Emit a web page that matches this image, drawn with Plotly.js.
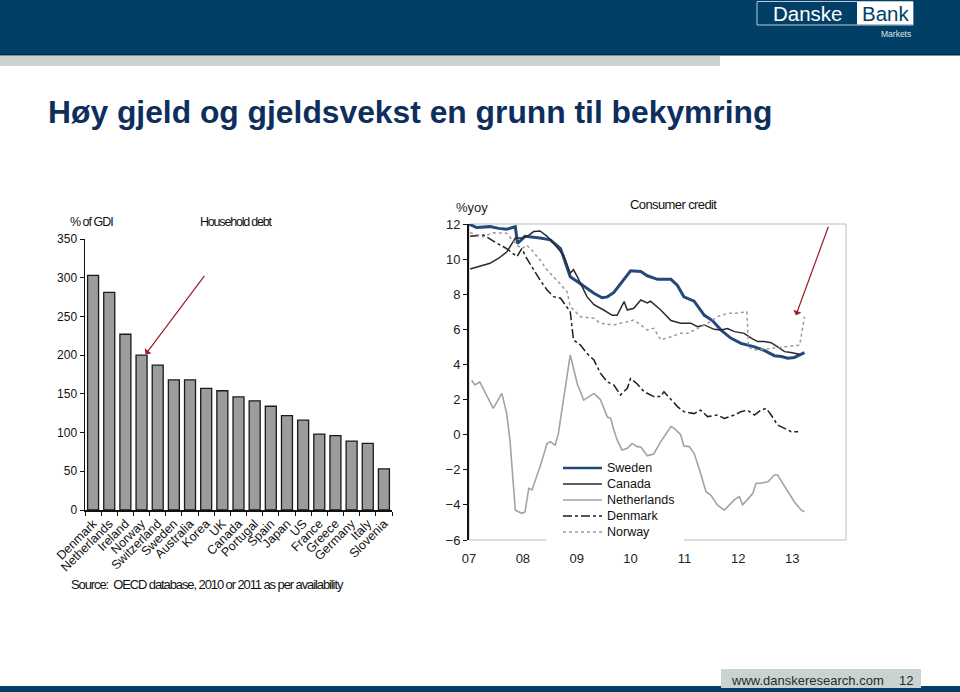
<!DOCTYPE html>
<html>
<head>
<meta charset="utf-8">
<script src="https://cdn.plot.ly/plotly-3.0.1.min.js"></script>
<style>
  html, body { margin: 0; padding: 0; background: #ffffff; }
  #chart { width: 960px; height: 692px; }
</style>
</head>
<body>
<div id="chart"></div>
<script>
// ---------- Data: household debt (% of GDI) ----------
const countries = ['Denmark','Netherlands','Ireland','Norway','Switzerland','Sweden','Australia','Korea','UK','Canada','Portugal','Spain','Japan','US','France','Greece','Germany','Italy','Slovenia'];
const debtPctGDI = [303, 281, 227, 200, 187, 168, 168, 157, 154, 146, 141, 134, 122, 116, 98, 96, 89, 86, 53];

// ---------- Data: consumer credit, % y/y ----------
const swedenX = [2007.0,2007.14,2007.39,2007.55,2007.70,2007.86,2007.90,2008.04,2008.32,2008.51,2008.70,2008.88,2009.07,2009.32,2009.47,2009.57,2009.69,2009.84,2010.0,2010.19,2010.31,2010.50,2010.75,2010.87,2010.99,2011.18,2011.37,2011.52,2011.68,2011.86,2012.05,2012.30,2012.48,2012.67,2012.80,2012.92,2013.04,2013.23];
const swedenY = [12.0,11.8,11.85,11.75,11.7,11.85,10.9,11.3,11.2,11.1,10.6,9.0,8.6,8.05,7.8,7.85,8.1,8.7,9.33,9.3,9.05,8.85,8.85,8.5,7.85,7.6,6.8,6.5,5.96,5.5,5.2,5.0,4.8,4.5,4.45,4.35,4.4,4.67];

const canadaX = [2007.02,2007.27,2007.39,2007.55,2007.70,2007.80,2007.86,2007.98,2008.11,2008.20,2008.32,2008.45,2008.60,2008.76,2008.88,2008.94,2009.01,2009.19,2009.32,2009.50,2009.66,2009.75,2009.88,2009.94,2010.06,2010.19,2010.31,2010.37,2010.56,2010.75,2010.93,2011.12,2011.24,2011.37,2011.55,2011.68,2011.80,2011.93,2012.11,2012.24,2012.36,2012.48,2012.61,2012.73,2012.86,2012.95,2013.04,2013.14];
const canadaY = [9.44,9.67,9.76,10.05,10.4,10.9,11.2,11.2,11.35,11.57,11.6,11.3,10.8,10.2,9.2,9.4,9.0,7.86,7.4,7.1,6.8,6.8,7.58,7.1,7.2,7.67,7.5,7.6,7.1,6.5,6.35,6.35,6.15,6.25,6.0,5.96,6.05,5.87,5.77,5.5,5.3,5.3,5.24,5.0,4.73,4.7,4.63,4.58];

const netherlandsX = [2007.05,2007.11,2007.20,2007.45,2007.61,2007.70,2007.76,2007.86,2007.98,2008.04,2008.11,2008.17,2008.32,2008.45,2008.51,2008.60,2008.66,2008.88,2009.01,2009.13,2009.32,2009.44,2009.57,2009.63,2009.69,2009.75,2009.84,2009.94,2010.03,2010.12,2010.19,2010.31,2010.43,2010.56,2010.75,2010.81,2010.93,2010.99,2011.09,2011.18,2011.30,2011.40,2011.49,2011.61,2011.74,2011.83,2011.93,2012.02,2012.08,2012.17,2012.27,2012.33,2012.42,2012.55,2012.67,2012.73,2012.83,2012.92,2013.04,2013.17,2013.23];
const netherlandsY = [3.1,2.83,3.0,1.5,2.35,1.2,-0.3,-4.3,-4.48,-4.4,-3.06,-3.15,-1.82,-0.5,-0.4,-0.6,0.07,4.54,2.9,1.97,2.35,2.0,1.0,0.93,0.27,-0.3,-0.87,-0.78,-0.5,-0.68,-0.7,-1.2,-1.1,-0.4,0.46,0.36,0.0,-0.65,-0.68,-1.06,-2.2,-3.25,-3.44,-4.0,-4.3,-4.0,-3.7,-3.53,-4.0,-3.7,-3.34,-2.77,-2.77,-2.68,-2.3,-2.3,-2.77,-3.25,-3.82,-4.3,-4.39];

const denmarkX = [2007.02,2007.27,2007.52,2007.70,2007.89,2007.98,2008.07,2008.20,2008.32,2008.45,2008.57,2008.70,2008.82,2008.88,2008.94,2009.07,2009.19,2009.32,2009.44,2009.57,2009.69,2009.81,2009.94,2010.0,2010.12,2010.25,2010.43,2010.56,2010.62,2010.75,2010.87,2010.99,2011.18,2011.30,2011.43,2011.61,2011.74,2011.93,2012.05,2012.17,2012.30,2012.42,2012.52,2012.61,2012.73,2012.86,2012.98,2013.11];
const denmarkY = [11.3,11.37,10.9,10.6,10.14,10.6,10.05,9.4,8.8,8.24,7.86,7.77,7.3,7.0,5.4,5.1,4.63,4.25,3.5,3.0,2.83,2.26,2.64,3.2,2.9,2.45,2.17,2.17,2.45,1.98,1.6,1.31,1.2,1.4,1.03,1.12,0.93,1.12,1.31,1.4,1.12,1.4,1.5,1.12,0.55,0.36,0.17,0.17];

const norwayX = [2007.02,2007.27,2007.45,2007.70,2007.89,2007.98,2008.07,2008.17,2008.32,2008.45,2008.63,2008.82,2008.88,2009.07,2009.32,2009.44,2009.69,2009.81,2009.94,2010.06,2010.19,2010.31,2010.43,2010.56,2010.75,2010.93,2011.06,2011.24,2011.43,2011.61,2011.80,2011.93,2012.11,2012.16,2012.19,2012.30,2012.42,2012.61,2012.80,2012.98,2013.14,2013.23];
const norwayY = [11.5,11.28,11.5,11.47,10.8,10.6,10.8,10.5,9.95,9.38,8.8,8.15,7.3,6.72,6.63,6.34,6.25,6.34,6.44,6.53,6.25,5.96,6.06,5.4,5.58,5.77,5.77,6.06,6.34,6.72,6.91,6.91,7.0,7.0,5.0,4.82,4.85,4.92,5.0,5.05,5.1,6.72];

const seriesNames = ['Sweden', 'Canada', 'Netherlands', 'Denmark', 'Norway'];
const yearTickVals = [2007, 2008, 2009, 2010, 2011, 2012, 2013];
const yearTickText = ['07', '08', '09', '10', '11', '12', '13'];

// ---------- helpers (pixel -> paper) ----------
const W = 960, H = 692;
const px = x => x / W;
const py = y => 1 - y / H;

const NAVY = '#013f66';
const BAND = '#c9d4d0';
const ARIAL = '"Liberation Sans", Arial, sans-serif';
const cond = (t, ls) => '<span style="letter-spacing:' + ls + 'px">' + t + '</span>';

const lineStyles = [
  { color: '#244a7c', width: 3 },
  { color: '#2a2a2a', width: 1.5 },
  { color: '#a3a3a3', width: 1.6 },
  { color: '#1e1e1e', width: 1.5, dash: 'dashdot' },
  { color: '#9a9a9a', width: 1.5, dash: 'dot' }
];
const seriesX = [swedenX, canadaX, netherlandsX, denmarkX, norwayX];
const seriesY = [swedenY, canadaY, netherlandsY, denmarkY, norwayY];

const traces = [
  {
    type: 'bar', x: countries, y: debtPctGDI, xaxis: 'x', yaxis: 'y',
    width: 0.68,
    marker: { color: '#9c9c9c', line: { color: '#1a1a1a', width: 1.3 } },
    showlegend: false, hoverinfo: 'x+y'
  }
];
seriesNames.forEach((n, i) => traces.push({
  type: 'scatter', mode: 'lines', name: n, x: seriesX[i], y: seriesY[i],
  xaxis: 'x2', yaxis: 'y2', line: lineStyles[i], showlegend: false
}));

// manual legend (compact spacing as in the source)
const legendShapes = [
  { type: 'rect', xref: 'paper', yref: 'paper', x0: px(546), x1: px(684), y0: py(542), y1: py(458),
    fillcolor: '#ffffff', line: { width: 0 }, layer: 'above' }
];
const legendAnn = [];
seriesNames.forEach((n, i) => {
  const yc = 468 + i * 16;
  legendShapes.push({ type: 'line', xref: 'paper', yref: 'paper', x0: px(563), x1: px(602), y0: py(yc), y1: py(yc),
    line: Object.assign({}, lineStyles[i], { width: Math.min(lineStyles[i].width, 2.5) }), layer: 'above' });
  legendAnn.push({ xref: 'paper', yref: 'paper', x: px(605), y: py(yc), xanchor: 'left', yanchor: 'middle',
    showarrow: false, text: n, font: { family: ARIAL, size: 12.5, color: '#111' } });
});

const layout = {
  width: W, height: H,
  margin: { l: 0, r: 0, t: 0, b: 0, pad: 0 },
  paper_bgcolor: '#ffffff', plot_bgcolor: 'rgba(0,0,0,0)',
  font: { family: ARIAL, color: '#111' },
  showlegend: false,
  // ---- left chart ----
  xaxis: {
    domain: [px(85), px(392)], anchor: 'y', type: 'category',
    showline: true, linecolor: '#111', linewidth: 1.5,
    ticks: 'outside', tickson: 'boundaries', ticklen: 4, tickcolor: '#111',
    tickangle: -45, tickfont: { family: ARIAL, size: 12.5, color: '#111' },
    showgrid: false, zeroline: false, fixedrange: true
  },
  yaxis: {
    domain: [py(510), py(239)], anchor: 'x', range: [0, 350], dtick: 50,
    showline: true, linecolor: '#111', linewidth: 1.5,
    ticks: 'outside', ticklen: 4, tickcolor: '#111',
    tickfont: { family: ARIAL, size: 12, color: '#111' },
    showgrid: false, zeroline: false, fixedrange: true
  },
  // ---- right chart ----
  xaxis2: {
    domain: [px(469), px(846)], anchor: 'y2', range: [2007, 2014],
    tickmode: 'array', tickvals: yearTickVals, ticktext: yearTickText,
    ticks: 'outside', ticklen: 6, tickcolor: 'rgba(0,0,0,0)',
    tickfont: { family: ARIAL, size: 13, color: '#222' },
    showline: false, showgrid: false, zeroline: false, fixedrange: true
  },
  yaxis2: {
    domain: [py(540), py(224)], anchor: 'x2', range: [-6, 12], dtick: 2,
    showline: true, linecolor: '#111', linewidth: 2,
    ticks: 'outside', ticklen: 4, tickcolor: '#111',
    tickfont: { family: ARIAL, size: 13, color: '#222' },
    showgrid: false, zeroline: false, fixedrange: true
  },
  xaxis3: {
    overlaying: 'x2', anchor: 'free', position: py(434.7), range: [2007, 2014],
    showline: true, linecolor: '#7a7a7a', linewidth: 1.5,
    showticklabels: false, tickmode: 'linear', tick0: 2007, dtick: 1,
    ticks: 'outside', ticklen: 5, tickcolor: '#222', tickwidth: 1.5,
    minor: { tick0: 2007, dtick: 0.5, ticks: 'inside', ticklen: 4, tickcolor: '#444', tickwidth: 1 },
    showgrid: false, zeroline: false, fixedrange: true
  },
  shapes: [
    // header
    { type: 'rect', xref: 'paper', yref: 'paper', x0: 0, x1: 1, y0: py(54), y1: 1, fillcolor: NAVY, line: { width: 0 }, layer: 'below' },
    { type: 'rect', xref: 'paper', yref: 'paper', x0: 0, x1: 1, y0: py(55.5), y1: py(54), fillcolor: '#002b47', line: { width: 0 }, layer: 'below' },
    { type: 'rect', xref: 'paper', yref: 'paper', x0: 0, x1: px(720), y0: py(66), y1: py(56), fillcolor: BAND, line: { width: 0 }, layer: 'below' },
    // logo
    { type: 'rect', xref: 'paper', yref: 'paper', x0: px(757), x1: px(913), y0: py(25), y1: py(1.5), fillcolor: 'rgba(0,0,0,0)', line: { color: '#b9cad6', width: 1 } },
    { type: 'rect', xref: 'paper', yref: 'paper', x0: px(857), x1: px(913), y0: py(24.5), y1: py(2), fillcolor: '#ffffff', line: { width: 0 } },
    // footer
    { type: 'rect', xref: 'paper', yref: 'paper', x0: 0, x1: 1, y0: 0, y1: py(686), fillcolor: NAVY, line: { width: 0 }, layer: 'below' },
    { type: 'rect', xref: 'paper', yref: 'paper', x0: px(721), x1: px(921), y0: py(688), y1: py(669), fillcolor: BAND, line: { width: 0 }, layer: 'below' },
    // right plot frame
    { type: 'rect', xref: 'x2 domain', yref: 'y2 domain', x0: 0, x1: 1, y0: 0, y1: 1, line: { color: '#bdbdbd', width: 1 }, layer: 'below' }
  ].concat(legendShapes),
  annotations: [
    // slide title
    { xref: 'paper', yref: 'paper', x: px(46), y: py(112), xanchor: 'left', yanchor: 'middle', showarrow: false,
      text: '<b>Høy gjeld og gjeldsvekst en grunn til bekymring</b>',
      font: { family: ARIAL, size: 31.8, color: '#0e2f5e' } },
    // logo texts
    { xref: 'paper', yref: 'paper', x: px(808), y: py(13.5), xanchor: 'center', yanchor: 'middle', showarrow: false,
      text: 'Danske', font: { family: ARIAL, size: 20.5, color: '#ffffff' } },
    { xref: 'paper', yref: 'paper', x: px(885), y: py(13.5), xanchor: 'center', yanchor: 'middle', showarrow: false,
      text: 'Bank', font: { family: ARIAL, size: 20.5, color: NAVY } },
    { xref: 'paper', yref: 'paper', x: px(913), y: py(34.5), xanchor: 'right', yanchor: 'middle', showarrow: false,
      text: 'Markets', font: { family: ARIAL, size: 8.5, color: '#dfe8ee' } },
    // left chart labels
    { xref: 'paper', yref: 'paper', x: px(68), y: py(222), xanchor: 'left', yanchor: 'middle', showarrow: false,
      text: cond('% of GDI', -1), font: { family: ARIAL, size: 12.5, color: '#111' } },
    { xref: 'paper', yref: 'paper', x: px(198), y: py(222), xanchor: 'left', yanchor: 'middle', showarrow: false,
      text: cond('Household debt', -1.2), font: { family: ARIAL, size: 12.5, color: '#111' } },
    { xref: 'paper', yref: 'paper', x: px(69), y: py(584), xanchor: 'left', yanchor: 'middle', showarrow: false,
      text: cond('Source:  OECD database, 2010 or 2011 as per availability', -1.1), font: { family: ARIAL, size: 13, color: '#111' } },
    // right chart labels
    { xref: 'paper', yref: 'paper', x: px(454), y: py(207), xanchor: 'left', yanchor: 'middle', showarrow: false,
      text: '%yoy', font: { family: ARIAL, size: 13, color: '#222' } },
    { xref: 'paper', yref: 'paper', x: px(628), y: py(204), xanchor: 'left', yanchor: 'middle', showarrow: false,
      text: cond('Consumer credit', -0.6), font: { family: ARIAL, size: 13, color: '#111' } },
    // red arrows
    { xref: 'x', yref: 'y', x: 'Norway', y: 201, xshift: 4, ax: 60, ay: -80, showarrow: true,
      arrowhead: 1, arrowsize: 1.2, arrowwidth: 1.2, arrowcolor: '#9b1b2a', text: '' },
    { xref: 'x2', yref: 'y2', x: 2013.07, y: 6.8, ax: 33, ay: -90, showarrow: true,
      arrowhead: 1, arrowsize: 1.2, arrowwidth: 1.2, arrowcolor: '#9b1b2a', text: '' },
    // footer texts
    { xref: 'paper', yref: 'paper', x: px(729), y: py(680), xanchor: 'left', yanchor: 'middle', showarrow: false,
      text: 'www.danskeresearch.com', font: { family: ARIAL, size: 13, color: '#2a2a2a' } },
    { xref: 'paper', yref: 'paper', x: px(906), y: py(680), xanchor: 'center', yanchor: 'middle', showarrow: false,
      text: '12', font: { family: ARIAL, size: 13, color: '#2a2a2a' } }
  ].concat(legendAnn)
};

Plotly.newPlot('chart', traces, layout, { displayModeBar: false, staticPlot: true });
</script>
</body>
</html>
